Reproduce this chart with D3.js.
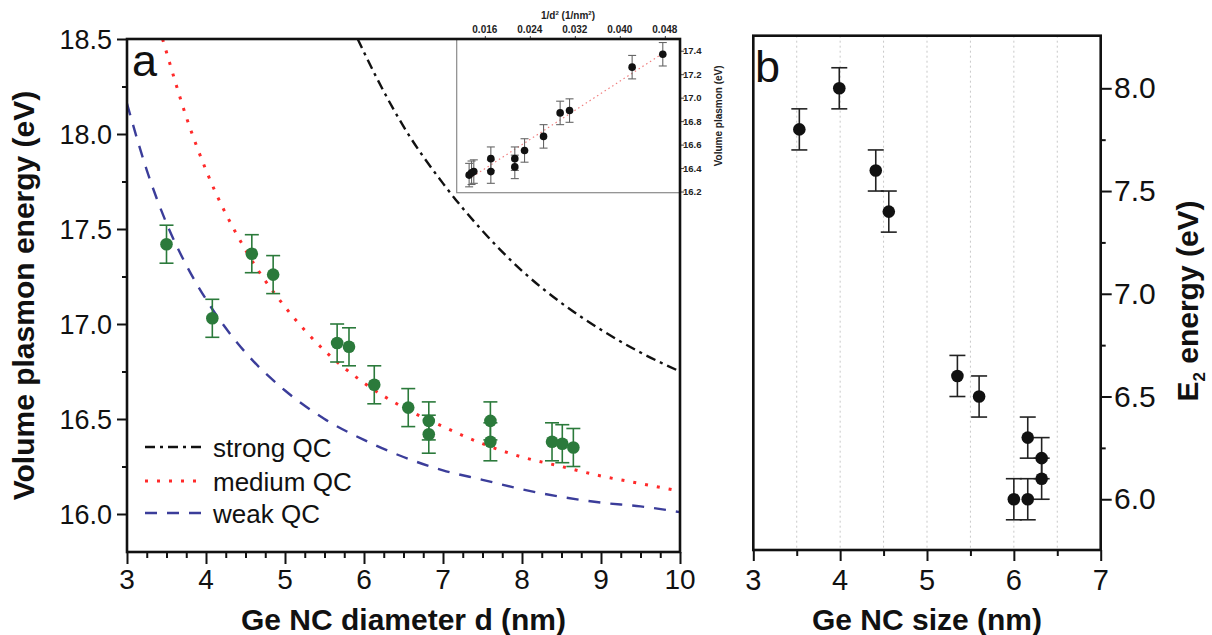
<!DOCTYPE html>
<html><head><meta charset="utf-8">
<script src="https://cdn.jsdelivr.net/npm/d3@7"></script>
<style>
html,body{margin:0;padding:0;background:#fff;}
svg{display:block;font-family:"Liberation Sans",Arial,sans-serif;}
</style></head>
<body>
<svg id="chart" width="1212" height="635"></svg>
<script>
// ---------- Panel a: measured plasmon energies ----------
const diamA    = [3.50, 4.08, 4.58, 4.85, 5.66, 5.81, 6.13, 6.56, 6.82, 6.82, 7.60, 7.60, 8.38, 8.51, 8.65];
const plasmonA = [17.42, 17.03, 17.37, 17.26, 16.90, 16.88, 16.68, 16.56, 16.49, 16.42, 16.49, 16.38, 16.38, 16.37, 16.35];
const plasmonErr = [0.10, 0.10, 0.10, 0.10, 0.10, 0.10, 0.10, 0.10, 0.10, 0.10, 0.10, 0.10, 0.10, 0.10, 0.10];

// model curves
const strongD = [5.92, 6, 6.5, 7, 7.5, 8, 8.5, 9, 9.5, 10];
const strongE = [18.50, 18.43, 18.04, 17.74, 17.49, 17.28, 17.11, 16.97, 16.85, 16.75];
const mediumD = [3.45, 3.5, 3.75, 4, 4.5, 5, 5.5, 6, 6.5, 7, 7.5, 8, 8.5, 9, 9.5, 10];
const mediumE = [18.50, 18.43, 18.09, 17.81, 17.39, 17.09, 16.86, 16.69, 16.56, 16.46, 16.37, 16.30, 16.25, 16.20, 16.16, 16.12];
const weakD = [3, 3.25, 3.5, 3.75, 4, 4.5, 5, 5.5, 6, 6.5, 7, 7.5, 8, 8.5, 9, 9.5, 10];
const weakE = [18.16, 17.81, 17.53, 17.31, 17.13, 16.85, 16.65, 16.50, 16.39, 16.30, 16.23, 16.18, 16.13, 16.09, 16.06, 16.04, 16.01];
const legendLabels = ["strong QC", "medium QC", "weak QC"];

const xTicksA = [3, 4, 5, 6, 7, 8, 9, 10];
const yTicksA = [16.0, 16.5, 17.0, 17.5, 18.0, 18.5];

// ---------- Inset: plasmon vs 1/d^2 ----------
const invD2  = [0.01321, 0.01364, 0.01404, 0.01707, 0.01707, 0.02133, 0.02133, 0.02306, 0.02644, 0.02939, 0.03106, 0.04219, 0.04764];
const insetE = [16.34, 16.36, 16.37, 16.48, 16.37, 16.48, 16.41, 16.55, 16.67, 16.87, 16.89, 17.26, 17.37];
const insetErr = [0.10, 0.10, 0.10, 0.10, 0.10, 0.10, 0.10, 0.10, 0.10, 0.10, 0.10, 0.10, 0.10];
const insetFitX = [0.0138, 0.0476];
const insetFitE = [16.326, 17.376];
const insetXTicks = [0.016, 0.024, 0.032, 0.040, 0.048];
const insetYTicks = [16.2, 16.4, 16.6, 16.8, 17.0, 17.2, 17.4];

// ---------- Panel b: E2 energy ----------
const sizeB = [3.53, 3.99, 4.41, 4.56, 5.35, 5.60, 6.16, 6.32, 6.32, 6.00, 6.16];
const e2B   = [7.80, 8.00, 7.60, 7.40, 6.60, 6.50, 6.30, 6.20, 6.10, 6.00, 6.00];
const e2Err = [0.10, 0.10, 0.10, 0.10, 0.10, 0.10, 0.10, 0.10, 0.10, 0.10, 0.10];
const xTicksB = [3, 4, 5, 6, 7];
const yTicksB = [6.0, 6.5, 7.0, 7.5, 8.0];

// =====================================================
const svg = d3.select("#chart");
const BLACK = "#111";
const GREEN = "#2b7a3b";

function range(a, b, s) { const r = []; for (let v = a; v <= b + 1e-9; v += s) r.push(+v.toFixed(4)); return r; }

// ---------- Panel a ----------
const A = {l: 127, r: 680, t: 39, b: 552};
const xA = d3.scaleLinear().domain([3, 10]).range([A.l, A.r]);
const yA = d3.scaleLinear().domain([15.8, 18.5]).range([A.b, A.t]);

svg.append("clipPath").attr("id", "clipA").append("rect")
  .attr("x", A.l).attr("y", A.t).attr("width", A.r - A.l).attr("height", A.b - A.t);

const gA = svg.append("g");

// curves
const lineA = d3.line().x(d => xA(d[0])).y(d => yA(d[1])).curve(d3.curveMonotoneX);
const curves = [
  {d: strongD, e: strongE, color: "#111", dash: "10,5,3,5", w: 2.4},
  {d: mediumD, e: mediumE, color: "#ff2a2a", dash: "3,9", w: 3},
  {d: weakD, e: weakE, color: "#3b3d9a", dash: "12,10", w: 2.4}
];
const curveG = gA.append("g").attr("clip-path", "url(#clipA)");
curves.forEach(c => {
  curveG.append("path").datum(c.d.map((v, i) => [v, c.e[i]]))
    .attr("d", lineA).attr("fill", "none").attr("stroke", c.color)
    .attr("stroke-width", c.w).attr("stroke-dasharray", c.dash);
});

// legend
const legY = [447, 481, 513];
curves.forEach((c, i) => {
  gA.append("line").attr("x1", 145).attr("x2", 205).attr("y1", legY[i]).attr("y2", legY[i])
    .attr("stroke", c.color).attr("stroke-width", c.w).attr("stroke-dasharray", c.dash);
  gA.append("text").attr("x", 213).attr("y", legY[i] + 9.5).text(legendLabels[i])
    .attr("font-size", 26).attr("fill", BLACK);
});

// data with error bars
const ptsA = diamA.map((d, i) => ({x: d, y: plasmonA[i], e: plasmonErr[i]}));
const eb = gA.append("g").attr("stroke", GREEN).attr("stroke-width", 1.6);
ptsA.forEach(p => {
  const cx = xA(p.x), y1 = yA(p.y + p.e), y2 = yA(p.y - p.e);
  eb.append("line").attr("x1", cx).attr("x2", cx).attr("y1", y1).attr("y2", y2);
  eb.append("line").attr("x1", cx - 7).attr("x2", cx + 7).attr("y1", y1).attr("y2", y1);
  eb.append("line").attr("x1", cx - 7).attr("x2", cx + 7).attr("y1", y2).attr("y2", y2);
});
gA.append("g").selectAll("circle").data(ptsA).join("circle")
  .attr("cx", d => xA(d.x)).attr("cy", d => yA(d.y)).attr("r", 6.3).attr("fill", GREEN);

// axes panel a
const axAx = gA.append("g").attr("transform", `translate(0,${A.b})`)
  .call(d3.axisBottom(xA).tickValues(range(3, 10, 0.25)).tickSize(6).tickFormat(""));
axAx.selectAll(".tick line").attr("y2", d => xTicksA.includes(d) ? 12 : 6);
const axAy = gA.append("g").attr("transform", `translate(${A.l},0)`)
  .call(d3.axisLeft(yA).tickValues(range(16.0, 18.5, 0.25)).tickSize(5).tickFormat(""));
axAy.selectAll(".tick line").attr("x2", d => yTicksA.some(t => Math.abs(t - d) < 1e-6) ? -10 : -5);
[axAx, axAy].forEach(a => { a.select(".domain").remove(); a.selectAll(".tick line").attr("stroke", BLACK).attr("stroke-width", 2); });

gA.selectAll(".xlabA").data(xTicksA).join("text")
  .attr("x", d => xA(d)).attr("y", 589).attr("text-anchor", "middle")
  .attr("font-size", 28).attr("fill", BLACK).text(d => d);
gA.selectAll(".ylabA").data(yTicksA).join("text")
  .attr("x", 112).attr("y", d => yA(d) + 9.5).attr("text-anchor", "end")
  .attr("font-size", 27).attr("fill", BLACK).text(d => d.toFixed(1));

gA.append("text").attr("x", (A.l + A.r) / 2).attr("y", 630).attr("text-anchor", "middle")
  .attr("font-size", 30).attr("font-weight", "bold").attr("fill", BLACK).text("Ge NC diameter d (nm)");
gA.append("text").attr("transform", `translate(34,${(A.t + A.b) / 2}) rotate(-90)`).attr("text-anchor", "middle")
  .attr("font-size", 30).attr("font-weight", "bold").attr("fill", BLACK).text("Volume plasmon energy (eV)");
gA.append("text").attr("x", 132).attr("y", 76).attr("font-size", 45).attr("fill", BLACK).text("a");

// ---------- Inset ----------
const I = {l: 456.7, r: A.r, t: A.t, b: 192.7};
const xI = d3.scaleLinear().domain([0.011, 0.0507]).range([I.l, I.r]);
const yI = d3.scaleLinear().domain([16.19, 17.50]).range([I.b, I.t]);
const gI = svg.append("g");
gI.append("rect").attr("x", I.l).attr("y", I.t).attr("width", I.r - I.l).attr("height", I.b - I.t)
  .attr("fill", "#fff").attr("stroke", "#8a8a8a").attr("stroke-width", 1.2);
gI.append("path").datum(insetFitX.map((v, i) => [v, insetFitE[i]]))
  .attr("d", d3.line().x(d => xI(d[0])).y(d => yI(d[1])))
  .attr("fill", "none").attr("stroke", "#f08080").attr("stroke-width", 1.2).attr("stroke-dasharray", "1.5,3");
const ptsI = invD2.map((v, i) => ({x: v, y: insetE[i], e: insetErr[i]}));
const ebI = gI.append("g").attr("stroke", "#666").attr("stroke-width", 1.1);
ptsI.forEach(p => {
  const cx = xI(p.x), y1 = yI(p.y + p.e), y2 = yI(p.y - p.e);
  ebI.append("line").attr("x1", cx).attr("x2", cx).attr("y1", y1).attr("y2", y2);
  ebI.append("line").attr("x1", cx - 4).attr("x2", cx + 4).attr("y1", y1).attr("y2", y1);
  ebI.append("line").attr("x1", cx - 4).attr("x2", cx + 4).attr("y1", y2).attr("y2", y2);
});
gI.append("g").selectAll("circle").data(ptsI).join("circle")
  .attr("cx", d => xI(d.x)).attr("cy", d => yI(d.y)).attr("r", 3.8).attr("fill", BLACK);

const axIx = gI.append("g").attr("transform", `translate(0,${I.t})`)
  .call(d3.axisTop(xI).tickValues(insetXTicks).tickSize(3).tickFormat(""));
const axIy = gI.append("g").attr("transform", `translate(${I.r},0)`)
  .call(d3.axisRight(yI).tickValues(insetYTicks).tickSize(4).tickFormat(""));
[axIx, axIy].forEach(a => { a.select(".domain").remove(); a.selectAll(".tick line").attr("stroke", "#444").attr("stroke-width", 1); });
gI.selectAll(".xlabI").data(insetXTicks).join("text")
  .attr("x", d => xI(d)).attr("y", 33).attr("text-anchor", "middle")
  .attr("font-size", 10).attr("font-weight", "bold").attr("fill", "#222").text(d => d.toFixed(3));
gI.selectAll(".ylabI").data(insetYTicks).join("text")
  .attr("x", 683).attr("y", d => yI(d) + 3.5).attr("text-anchor", "start")
  .attr("font-size", 9.5).attr("font-weight", "bold").attr("fill", "#222").text(d => d.toFixed(1));
const tI = gI.append("text").attr("x", 568).attr("y", 19).attr("text-anchor", "middle")
  .attr("font-size", 10).attr("font-weight", "bold").attr("fill", "#222");
tI.append("tspan").text("1/d");
tI.append("tspan").attr("font-size", 6).attr("dy", -4).text("2");
tI.append("tspan").attr("dy", 4).text(" (1/nm");
tI.append("tspan").attr("font-size", 6).attr("dy", -4).text("2");
tI.append("tspan").attr("dy", 4).text(")");
gI.append("text").attr("transform", `translate(722,${(I.t + I.b) / 2}) rotate(-90)`).attr("text-anchor", "middle")
  .attr("font-size", 10).attr("font-weight", "bold").attr("fill", "#222").text("Volume plasmon (eV)");

// panel a frame
svg.append("rect").attr("x", A.l).attr("y", A.t).attr("width", A.r - A.l).attr("height", A.b - A.t)
  .attr("fill", "none").attr("stroke", BLACK).attr("stroke-width", 2.6);

// ---------- Panel b ----------
const B = {l: 753.3, r: 1100.7, t: 35.7, b: 550};
const xB = d3.scaleLinear().domain([3, 7]).range([B.l, B.r]);
const yB = d3.scaleLinear().domain([5.753, 8.256]).range([B.b, B.t]);
const gB = svg.append("g");

gB.append("g").selectAll("line").data(range(3.5, 6.5, 0.5)).join("line")
  .attr("x1", d => xB(d)).attr("x2", d => xB(d)).attr("y1", B.t).attr("y2", B.b)
  .attr("stroke", "#c8c8c8").attr("stroke-width", 1).attr("stroke-dasharray", "2,3");

const ptsB = sizeB.map((v, i) => ({x: v, y: e2B[i], e: e2Err[i]}));
const ebB = gB.append("g").attr("stroke", "#222").attr("stroke-width", 1.6);
ptsB.forEach(p => {
  const cx = xB(p.x), y1 = yB(p.y + p.e), y2 = yB(p.y - p.e);
  ebB.append("line").attr("x1", cx).attr("x2", cx).attr("y1", y1).attr("y2", y2);
  ebB.append("line").attr("x1", cx - 8).attr("x2", cx + 8).attr("y1", y1).attr("y2", y1);
  ebB.append("line").attr("x1", cx - 8).attr("x2", cx + 8).attr("y1", y2).attr("y2", y2);
});
gB.append("g").selectAll("circle").data(ptsB).join("circle")
  .attr("cx", d => xB(d.x)).attr("cy", d => yB(d.y)).attr("r", 6.3).attr("fill", BLACK);

const axBx = gB.append("g").attr("transform", `translate(0,${B.b})`)
  .call(d3.axisBottom(xB).tickValues(range(3, 7, 0.5)).tickSize(6).tickFormat(""));
axBx.selectAll(".tick line").attr("y2", d => xTicksB.includes(d) ? 11 : 6);
const axBy = gB.append("g").attr("transform", `translate(${B.r},0)`)
  .call(d3.axisRight(yB).tickValues(range(6.0, 8.0, 0.25)).tickSize(5).tickFormat(""));
axBy.selectAll(".tick line").attr("x2", d => yTicksB.some(t => Math.abs(t - d) < 1e-6) ? 11 : 5);
[axBx, axBy].forEach(a => { a.select(".domain").remove(); a.selectAll(".tick line").attr("stroke", BLACK).attr("stroke-width", 2); });

gB.selectAll(".xlabB").data(xTicksB).join("text")
  .attr("x", d => xB(d)).attr("y", 590).attr("text-anchor", "middle")
  .attr("font-size", 29).attr("fill", BLACK).text(d => d);
gB.selectAll(".ylabB").data(yTicksB).join("text")
  .attr("x", 1114).attr("y", d => yB(d) + 10).attr("text-anchor", "start")
  .attr("font-size", 30).attr("fill", BLACK).text(d => d.toFixed(1));

gB.append("text").attr("x", (B.l + B.r) / 2).attr("y", 630).attr("text-anchor", "middle")
  .attr("font-size", 30).attr("font-weight", "bold").attr("fill", BLACK).text("Ge NC size (nm)");
const tB = gB.append("text").attr("transform", `translate(1198,301) rotate(-90)`).attr("text-anchor", "middle")
  .attr("font-size", 30).attr("font-weight", "bold").attr("fill", BLACK);
tB.append("tspan").text("E");
tB.append("tspan").attr("font-size", 17).attr("dy", 7).text("2");
tB.append("tspan").attr("dy", -7).text(" energy (eV)");
gB.append("text").attr("x", 755).attr("y", 82).attr("font-size", 45).attr("fill", BLACK).text("b");

svg.append("rect").attr("x", B.l).attr("y", B.t).attr("width", B.r - B.l).attr("height", B.b - B.t)
  .attr("fill", "none").attr("stroke", BLACK).attr("stroke-width", 2.6);
</script>
</body></html>
